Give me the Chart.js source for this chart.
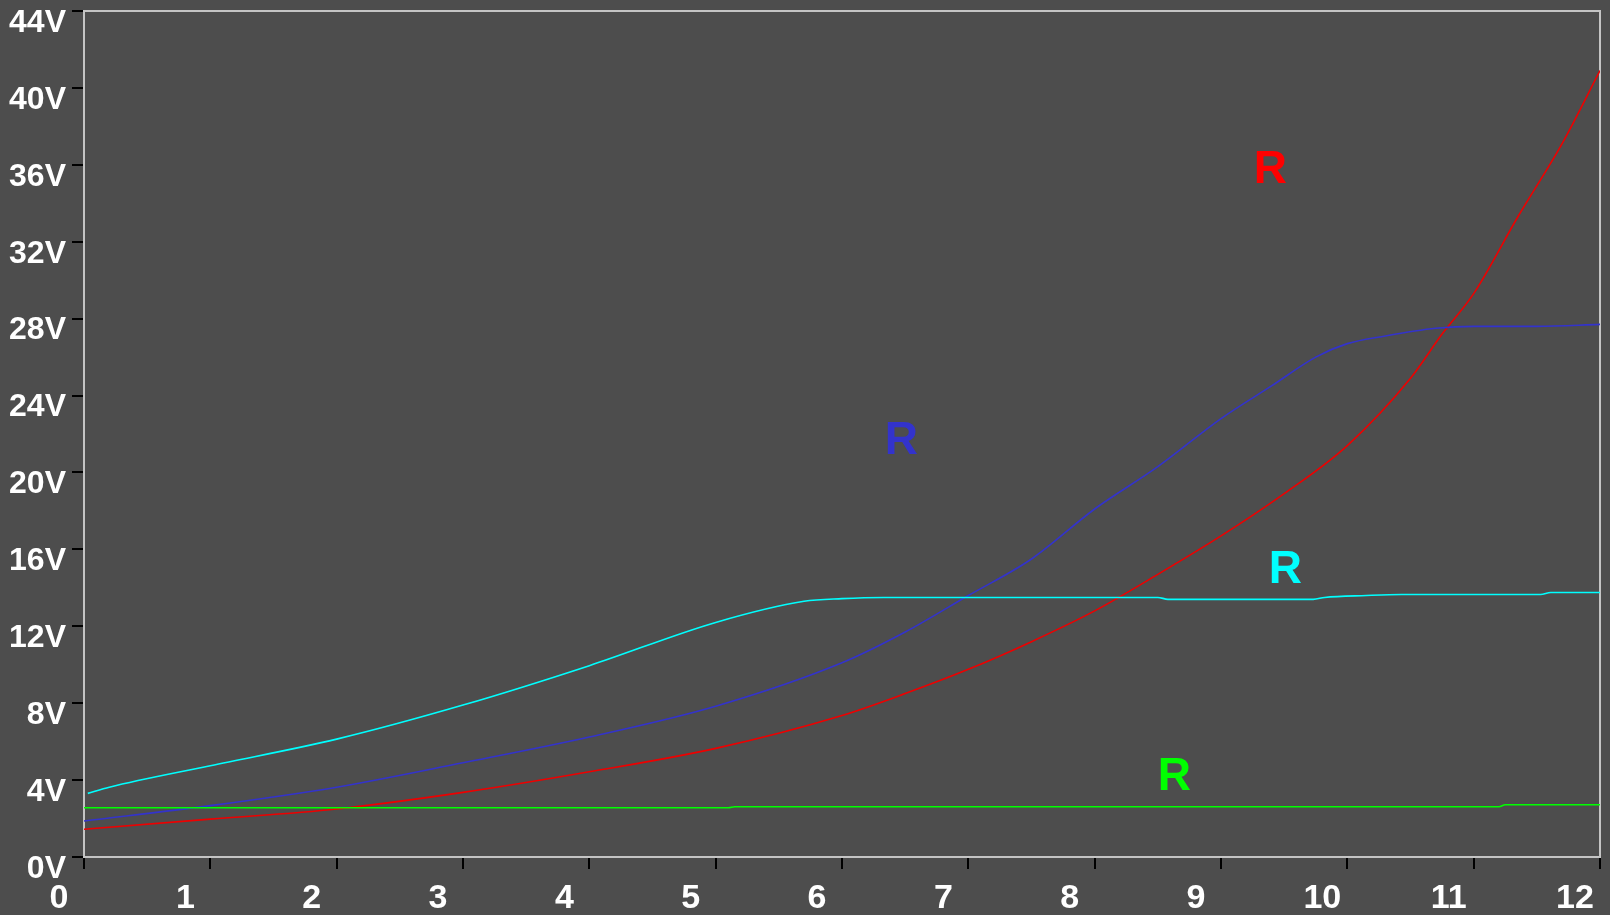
<!DOCTYPE html>
<html>
<head>
<meta charset="utf-8">
<script src="https://cdn.jsdelivr.net/npm/chart.js@4/dist/chart.umd.min.js"></script>
<style>
    body { margin: 0; background: #4d4d4d; }
    #wrap { width: 1610px; height: 915px; position: relative; }
</style>
</head>
<body>
<div id="wrap"><canvas id="lineChart"></canvas></div>
<script>
// tick labels
const xTickLabels = ['0', '1', '2', '3', '4', '5', '6', '7', '8', '9', '10', '11', '12'];
const yTickLabels = ['0V', '4V', '8V', '12V', '16V', '20V', '24V', '28V', '32V', '36V', '40V', '44V'];

// series (x in axis units, y in volts)
const redX = [0, 1, 2, 3, 4, 5, 6, 6.5, 7, 7.5, 8, 8.5, 9, 9.5, 10, 10.5, 10.75, 11, 11.35, 11.7, 12];
const redY = [1.44, 1.97, 2.5, 3.36, 4.43, 5.65, 7.36, 8.5, 9.76, 11.2, 12.8, 14.7, 16.7, 18.9, 21.4, 24.9, 27.2, 29.3, 33.3, 37.1, 40.9];

const blueX = [0, 1, 2, 3, 4, 5, 6, 6.5, 7, 7.5, 8, 8.5, 9, 9.4, 9.75, 10, 10.3, 10.7, 11, 11.5, 12];
const blueY = [1.87, 2.67, 3.63, 4.9, 6.24, 7.84, 10.1, 11.7, 13.6, 15.5, 18.1, 20.3, 22.8, 24.5, 26.0, 26.7, 27.1, 27.5, 27.6, 27.6, 27.7];

const cyanX = [0.03, 0.2, 1, 2, 3, 4, 5, 5.7, 6, 6.33, 8.5, 8.58, 9.73, 9.82, 10.15, 10.43, 11.53, 11.61, 12];
const cyanY = [3.31, 3.63, 4.75, 6.13, 7.9, 9.95, 12.2, 13.3, 13.44, 13.5, 13.5, 13.4, 13.4, 13.5, 13.6, 13.65, 13.65, 13.76, 13.76];

const greenX = [0, 5.1, 5.15, 11.2, 11.25, 12];
const greenY = [2.56, 2.56, 2.61, 2.61, 2.72, 2.72];

// series name tags placed in the plot
const tagText = ['R', 'R', 'R', 'R'];
const tagX = [9.39, 6.47, 8.63, 9.51];
const tagY = [35.7, 21.6, 4.16, 14.93];
const tagColors = ['#ff0000', '#3333cc', '#00ff00', '#00ffff'];

function toPoints(xs, ys) {
    return xs.map((x, i) => ({ x: x, y: ys[i] }));
}

const frame = {
    id: 'frame',
    beforeDatasetsDraw(chart) {
        const ctx = chart.ctx;
        const a = chart.chartArea;
        ctx.save();
        ctx.strokeStyle = '#c4c4c4';
        ctx.lineWidth = 2;
        ctx.strokeRect(a.left, a.top, a.right - a.left, a.bottom - a.top);
        ctx.restore();
    },
    afterDatasetsDraw(chart) {
        const ctx = chart.ctx;
        const xs = chart.scales.x;
        const ys = chart.scales.y;
        ctx.save();
        ctx.font = 'bold 46px "Liberation Sans", sans-serif';
        ctx.textAlign = 'center';
        ctx.textBaseline = 'middle';
        for (let i = 0; i < tagText.length; i++) {
            ctx.fillStyle = tagColors[i];
            ctx.fillText(tagText[i], xs.getPixelForValue(tagX[i]), ys.getPixelForValue(tagY[i]));
        }
        ctx.restore();
    }
};

function lineSet(label, xs, ys, color) {
    return {
        label: label,
        data: toPoints(xs, ys),
        borderColor: color,
        backgroundColor: color,
        borderWidth: 1.6,
        pointRadius: 0,
        cubicInterpolationMode: 'monotone',
        fill: false
    };
}

const lineConfig = {
    type: 'line',
    data: {
        datasets: [
            lineSet('cyan', cyanX, cyanY, '#00ffff'),
            lineSet('green', greenX, greenY, '#00ff00'),
            lineSet('blue', blueX, blueY, '#3333cc'),
            lineSet('red', redX, redY, '#ee0000')
        ]
    },
    options: {
        responsive: true,
        maintainAspectRatio: false,
        animation: false,
        layout: { padding: { top: 11, right: 10, left: 0, bottom: 0 } },
        plugins: {
            legend: { display: false },
            tooltip: { enabled: false }
        },
        scales: {
            x: {
                type: 'linear',
                min: 0,
                max: 12,
                border: { display: false },
                grid: { drawOnChartArea: false, drawTicks: true, tickLength: 12, color: '#000000', lineWidth: 2 },
                ticks: {
                    stepSize: 1,
                    autoSkip: false,
                    maxRotation: 0,
                    color: '#ffffff',
                    padding: 9,
                    labelOffset: -25,
                    font: { family: '"Liberation Sans", sans-serif', size: 34, weight: 'bold' },
                    callback: (v) => xTickLabels[v]
                },
                afterFit: (s) => { s.height = 58; s.paddingLeft = 0; s.paddingRight = 0; }
            },
            y: {
                min: 0,
                max: 44,
                border: { display: false },
                grid: { drawOnChartArea: false, drawTicks: true, tickLength: 12, color: '#000000', lineWidth: 2 },
                ticks: {
                    stepSize: 4,
                    autoSkip: false,
                    color: '#ffffff',
                    padding: 6,
                    labelOffset: 12,
                    font: { family: '"Liberation Sans", sans-serif', size: 32, weight: 'bold' },
                    callback: (v) => yTickLabels[v / 4]
                },
                afterFit: (s) => { s.width = 84; s.paddingTop = 0; s.paddingBottom = 0; }
            }
        }
    },
    plugins: [frame]
};

const lineChart = new Chart(document.getElementById('lineChart'), lineConfig);
</script>
</body>
</html>
